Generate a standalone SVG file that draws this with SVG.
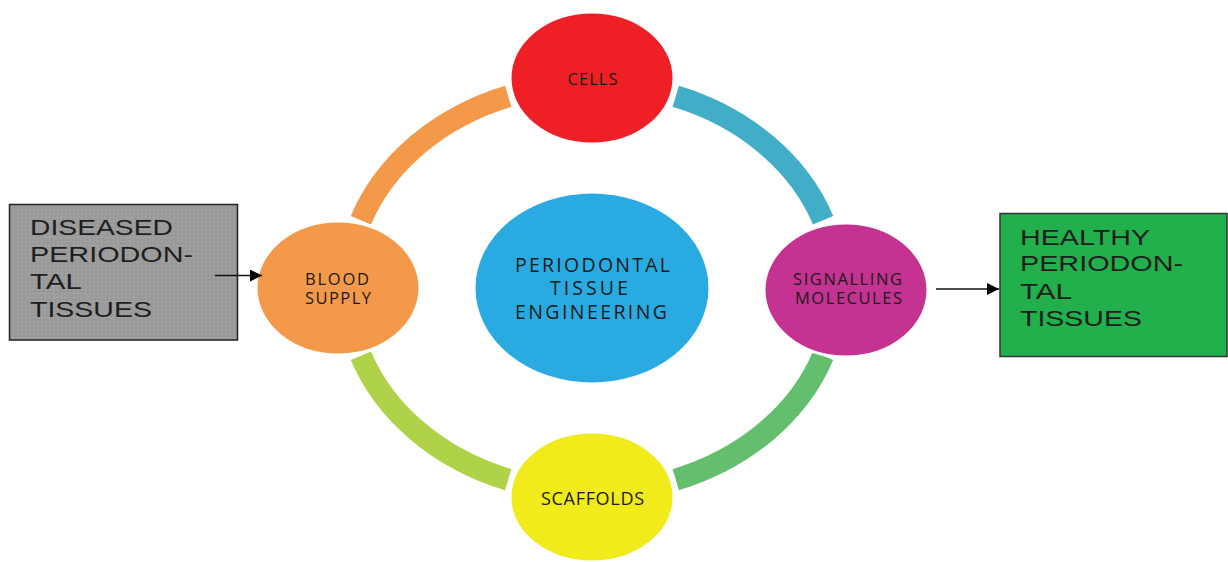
<svg xmlns="http://www.w3.org/2000/svg" width="1228" height="562" viewBox="0 0 1228 562">
<defs>
<style>
.arc{fill:none;stroke-width:22;stroke-linecap:butt}
.node{stroke:#ffffff;stroke-width:3}
.lbl{font-family:"Open Sans","Noto Sans",sans-serif;fill:#1a1a1a;text-anchor:middle;font-weight:500}
.box{font-family:"Liberation Sans",Arial,sans-serif;font-size:22px;fill:#1e1e1e}
.conn{stroke:#111;stroke-width:1.3;fill:none}
</style>
<pattern id="dots" width="4" height="4" patternUnits="userSpaceOnUse">
<rect width="4" height="4" fill="#9a9a9a"/>
<rect x="1" y="1" width="1" height="1" fill="#b4b4b4"/>
</pattern>
<marker id="ah" viewBox="0 0 10 10" refX="10" refY="5" markerWidth="13" markerHeight="12" markerUnits="userSpaceOnUse" orient="auto">
<path d="M0,0 L10,5 L0,10 z" fill="#000"/>
</marker>
</defs>
<rect width="1228" height="562" fill="#ffffff"/>
<g id="ring">
<path class="arc" stroke="#F4994A" d="M360.9 220.2 A245 204 0 0 1 508.2 96.3"/>
<path class="arc" stroke="#41ADC6" d="M675.8 96.3 A245 204 0 0 1 823.1 220.2"/>
<path class="arc" stroke="#63BE6E" d="M823.1 355.8 A245 204 0 0 1 675.8 479.7"/>
<path class="arc" stroke="#B0D249" d="M508.2 479.7 A245 204 0 0 1 360.9 355.8"/>
</g>
<g id="center">
<ellipse class="node" cx="592" cy="288" rx="118" ry="96" fill="#29ABE2"/>
<text class="lbl" font-size="19.5" x="592.5" y="272" textLength="155" lengthAdjust="spacing">PERIODONTAL</text>
<text class="lbl" font-size="19.5" x="589" y="294.5" textLength="78" lengthAdjust="spacing">TISSUE</text>
<text class="lbl" font-size="19.5" x="591" y="318.5" textLength="152" lengthAdjust="spacing">ENGINEERING</text>
</g>
<g id="cells">
<ellipse class="node" cx="592" cy="78" rx="82" ry="66" fill="#EE2026"/>
<text class="lbl" font-size="16.5" x="592.5" y="85" textLength="50" lengthAdjust="spacing">CELLS</text>
</g>
<g id="signalling">
<ellipse class="node" cx="846" cy="290" rx="82" ry="67" fill="#C43391"/>
<text class="lbl" font-size="16.5" x="847.5" y="285" textLength="109" lengthAdjust="spacing">SIGNALLING</text>
<text class="lbl" font-size="16.5" x="848.5" y="303.5" textLength="107" lengthAdjust="spacing">MOLECULES</text>
</g>
<g id="scaffolds">
<ellipse class="node" cx="592" cy="497" rx="82" ry="65" fill="#F1EB1C"/>
<text class="lbl" font-size="18" x="592.5" y="505" textLength="103" lengthAdjust="spacing">SCAFFOLDS</text>
</g>
<g id="blood">
<ellipse class="node" cx="338" cy="288" rx="82" ry="67" fill="#F4994A"/>
<text class="lbl" font-size="16.5" x="337" y="285" textLength="64" lengthAdjust="spacing">BLOOD</text>
<text class="lbl" font-size="16.5" x="338" y="303.5" textLength="66" lengthAdjust="spacing">SUPPLY</text>
</g>
<g id="diseased">
<rect x="9.5" y="204.5" width="228" height="135.5" fill="url(#dots)" stroke="#222" stroke-width="1.5"/>
<text class="box" x="30" y="235" textLength="143" lengthAdjust="spacingAndGlyphs">DISEASED</text>
<text class="box" x="30" y="262" textLength="163" lengthAdjust="spacingAndGlyphs">PERIODON-</text>
<text class="box" x="30" y="289" textLength="52" lengthAdjust="spacingAndGlyphs">TAL</text>
<text class="box" x="30" y="316.5" textLength="122" lengthAdjust="spacingAndGlyphs">TISSUES</text>
</g>
<g id="healthy">
<rect x="1000" y="213.5" width="227" height="143" fill="#21B04B" stroke="#333" stroke-width="1.5"/>
<text class="box" x="1020" y="244.5" textLength="130" lengthAdjust="spacingAndGlyphs">HEALTHY</text>
<text class="box" x="1020" y="271" textLength="163" lengthAdjust="spacingAndGlyphs">PERIODON-</text>
<text class="box" x="1020" y="298.5" textLength="52" lengthAdjust="spacingAndGlyphs">TAL</text>
<text class="box" x="1020" y="326" textLength="122" lengthAdjust="spacingAndGlyphs">TISSUES</text>
</g>
<g id="connectors">
<line class="conn" x1="215" y1="275.5" x2="262" y2="275.5" marker-end="url(#ah)"/>
<line class="conn" x1="936" y1="289" x2="999" y2="289" marker-end="url(#ah)"/>
</g>
</svg>
